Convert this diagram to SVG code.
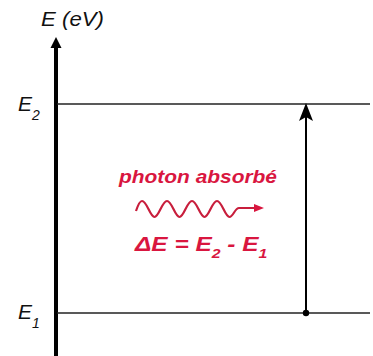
<svg xmlns="http://www.w3.org/2000/svg" width="373" height="356" viewBox="0 0 373 356">
<style>
.lbl{font-family:"Liberation Sans",Arial,sans-serif;font-style:italic;fill:#111}
.red{font-family:"Liberation Sans",Arial,sans-serif;font-style:italic;font-weight:bold;fill:#d9163f}
.lvl{stroke:#222;stroke-width:1.5;fill:none}
</style>
<rect width="373" height="356" fill="#fff"/>
<g id="axis">
<line x1="56" y1="46" x2="56" y2="356" stroke="#000" stroke-width="4"/>
<polygon points="56,37 61.5,48 50.5,48" fill="#000"/>
<text class="lbl" x="41" y="26" font-size="20" textLength="63" lengthAdjust="spacingAndGlyphs">E (eV)</text>
</g>
<g id="level-E2">
<line class="lvl" x1="57" y1="104" x2="370" y2="104"/>
<text class="lbl" x="18" y="111" font-size="21">E<tspan font-size="14" dy="9">2</tspan></text>
</g>
<g id="level-E1">
<line class="lvl" x1="57" y1="313" x2="370" y2="313"/>
<text class="lbl" x="18" y="319" font-size="21">E<tspan font-size="14" dy="9">1</tspan></text>
</g>
<g id="connectors">
<line x1="306" y1="313" x2="306" y2="116" stroke="#000" stroke-width="2"/>
<polygon points="306,103 313,121 306,117 299,121" fill="#000"/>
<circle cx="306" cy="313" r="3.2" fill="#000"/>
</g>
<g id="photon">
<text class="red" x="119" y="183" font-size="19" textLength="158" lengthAdjust="spacingAndGlyphs">photon absorbé</text>
<path d="M136,211 C138,205 140,201 142,201 C147,201 150,217 154.5,217 C159,217 162,201 167,201 C172,201 175,217 179.5,217 C184,217 187,201 192,201 C197,201 200,217 204.5,217 C209,217 212,201 217,201 C222,201 225,217 229.5,217 C233,217 235,208 239,208 L256,208" fill="none" stroke="#c81e3c" stroke-width="2.2"/>
<polygon points="254,204 264,208 254,212" fill="#d9163f"/>
<text class="red" transform="translate(135,251) scale(1.22,1)" x="0" y="0" font-size="20">ΔE = E<tspan font-size="13" dy="7">2</tspan><tspan dy="-7"> - E</tspan><tspan font-size="13" dy="7">1</tspan></text>
</g>
</svg>
